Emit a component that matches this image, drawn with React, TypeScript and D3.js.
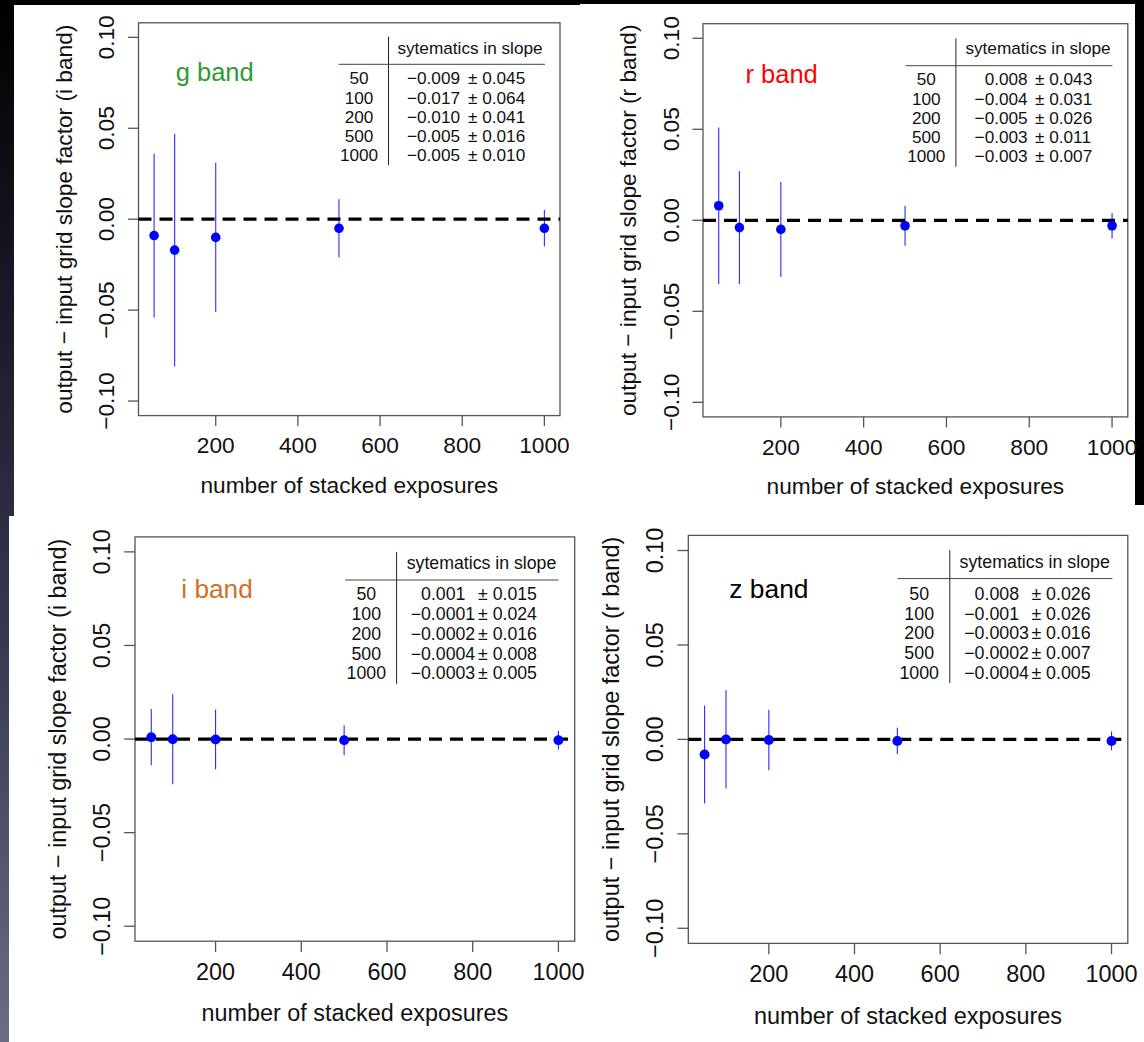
import React from "react";
import * as d3 from "d3";

// ---------- data ----------
const N_EXPOSURES = [50, 100, 200, 500, 1000];
const X_TICKS = [200, 400, 600, 800, 1000];
const Y_TICKS = [-0.1, -0.05, 0, 0.05, 0.1];
const Y_TICK_LABELS = ["\u22120.10", "\u22120.05", "0.00", "0.05", "0.10"];
const Y_LIMITS = [-0.1, 0.1];

const G_VALUES = [-0.009, -0.017, -0.01, -0.005, -0.005];
const G_ERRORS = [0.045, 0.064, 0.041, 0.016, 0.01];
const G_TABLE_VALUES = ["\u22120.009", "\u22120.017", "\u22120.010", "\u22120.005", "\u22120.005"];
const G_TABLE_ERRORS = ["0.045", "0.064", "0.041", "0.016", "0.010"];

const R_VALUES = [0.008, -0.004, -0.005, -0.003, -0.003];
const R_ERRORS = [0.043, 0.031, 0.026, 0.011, 0.007];
const R_TABLE_VALUES = ["0.008", "\u22120.004", "\u22120.005", "\u22120.003", "\u22120.003"];
const R_TABLE_ERRORS = ["0.043", "0.031", "0.026", "0.011", "0.007"];

const I_VALUES = [0.001, -0.0001, -0.0002, -0.0006, -0.0006];
const I_ERRORS = [0.015, 0.024, 0.016, 0.008, 0.005];
const I_TABLE_VALUES = ["0.001", "\u22120.0001", "\u22120.0002", "\u22120.0004", "\u22120.0003"];
const I_TABLE_ERRORS = ["0.015", "0.024", "0.016", "0.008", "0.005"];

const Z_VALUES = [-0.008, 0.0, -0.0003, -0.0008, -0.0008];
const Z_ERRORS = [0.026, 0.026, 0.016, 0.007, 0.005];
const Z_TABLE_VALUES = ["0.008", "\u22120.001", "\u22120.0003", "\u22120.0002", "\u22120.0004"];
const Z_TABLE_ERRORS = ["0.026", "0.026", "0.016", "0.007", "0.005"];

const TABLE_HEADER = "sytematics in slope";
const X_LABEL = "number of stacked exposures";

// ---------- layout ----------
const FONT = "'Liberation Sans', Arial, Helvetica, sans-serif";

const PANELS = [
  {
    title: "g band", titleColor: "#2f9a2f",
    ylab: "output \u2212 input grid slope factor (i band)",
    values: G_VALUES, errors: G_ERRORS, tv: G_TABLE_VALUES, te: G_TABLE_ERRORS,
    box: { l: 138.5, r: 560, t: 22.8, b: 415.6 }, s: 1,
    titlePos: [175.7, 80.5],
    tab: { vx: 388.5, vy: [36.7, 165], hx: [338.5, 545], hy: 64.3, headX: 470, headY: 49.3,
      rowY: [78.3, 97.7, 116.7, 136, 155], colX: 359, valX: 407, pmX: 468 },
  },
  {
    title: "r band", titleColor: "#ff0000",
    ylab: "output \u2212 input grid slope factor (r band)",
    values: R_VALUES, errors: R_ERRORS, tv: R_TABLE_VALUES, te: R_TABLE_ERRORS,
    box: { l: 703, r: 1127.8, t: 23.7, b: 416.9 }, s: 1,
    titlePos: [745.5, 83],
    tab: { vx: 955.9, vy: [38.3, 166.7], hx: [905.5, 1112.4], hy: 65.7, headX: 1038, headY: 50,
      rowY: [79.3, 98.7, 117.7, 137, 156], colX: 926.3, valX: 974.6, pmX: 1035 },
  },
  {
    title: "i band", titleColor: "#d2711f",
    ylab: "output \u2212 input grid slope factor (i band)",
    values: I_VALUES, errors: I_ERRORS, tv: I_TABLE_VALUES, te: I_TABLE_ERRORS,
    box: { l: 135, r: 574.7, t: 536.9, b: 941.2 }, s: 1.03,
    titlePos: [181.3, 598.2],
    tab: { vx: 396.6, vy: [551.9, 683.8], hx: [345.2, 558.6], hy: 580, headX: 481.5, headY: 564.2,
      rowY: [594, 613.9, 633.4, 653.3, 672.8], colX: 366.3, valX: 410.7, pmX: 478 },
  },
  {
    title: "z band", titleColor: "#000000",
    ylab: "output \u2212 input grid slope factor (r band)",
    values: Z_VALUES, errors: Z_ERRORS, tv: Z_TABLE_VALUES, te: Z_TABLE_ERRORS,
    box: { l: 688.3, r: 1127.8, t: 535.4, b: 943.4 }, s: 1.035,
    titlePos: [729.3, 598.2],
    tab: { vx: 949.8, vy: [550.2, 683], hx: [897.6, 1112.4], hy: 578.6, headX: 1034.7, headY: 563.2,
      rowY: [593.4, 613.2, 632.7, 653, 672.8], colX: 919.2, valX: 964.2, pmX: 1031.4 },
  },
];

function Panel({ p }: { p: any }) {
  const { box, s, tab } = p;
  const [xmin, xmax] = d3.extent(N_EXPOSURES) as [number, number];
  const xpad = 0.04 * (xmax - xmin);
  const ypad = 0.04 * (Y_LIMITS[1] - Y_LIMITS[0]);
  const x = d3.scaleLinear().domain([xmin - xpad, xmax + xpad]).range([box.l, box.r]);
  const y = d3.scaleLinear().domain([Y_LIMITS[0] - ypad, Y_LIMITS[1] + ypad]).range([box.b, box.t]);

  const axisFs = 22.7 * s;
  const tableFs = 17.2 * s;
  const titleFs = 25.5 * s;
  const tickLen = 10.5 * s;
  const axisColor = "#555";
  const textColor = "#111";

  const yTickCx = box.l - 32.5 * s;
  const yLabCx = box.l - 72.5 * s;
  const xTickCy = box.b + 29.6 * s;
  const xLabCy = box.b + 71.5 * s;
  const yMid = (box.t + box.b) / 2;
  const xMid = (box.l + box.r) / 2;
  const minusW = 0.584 * tableFs;

  return (
    <g>
      {/* frame */}
      <rect x={box.l} y={box.t} width={box.r - box.l} height={box.b - box.t}
        fill="none" stroke={axisColor} strokeWidth={1.3} />
      {/* x ticks */}
      {X_TICKS.map((t) => (
        <g key={"xt" + t}>
          <line x1={x(t)} x2={x(t)} y1={box.b} y2={box.b + tickLen} stroke={axisColor} strokeWidth={1.3} />
          <text x={x(t)} y={xTickCy + 0.36 * axisFs} textAnchor="middle" fontSize={axisFs}
            fontFamily={FONT} fill={textColor}>{t}</text>
        </g>
      ))}
      {/* y ticks */}
      {Y_TICKS.map((t, i) => (
        <g key={"yt" + i}>
          <line x1={box.l - tickLen} x2={box.l} y1={y(t)} y2={y(t)} stroke={axisColor} strokeWidth={1.3} />
          <text transform={`translate(${yTickCx},${y(t)}) rotate(-90)`} y={0.36 * axisFs}
            textAnchor="middle" fontSize={axisFs} fontFamily={FONT} fill={textColor}>{Y_TICK_LABELS[i]}</text>
        </g>
      ))}
      {/* axis titles */}
      <text x={xMid} y={xLabCy + 0.26 * axisFs} textAnchor="middle" fontSize={axisFs}
        fontFamily={FONT} fill={textColor}>{X_LABEL}</text>
      <text transform={`translate(${yLabCx},${yMid}) rotate(-90)`} y={0.26 * axisFs}
        textAnchor="middle" fontSize={axisFs} fontFamily={FONT} fill={textColor}>{p.ylab}</text>

      {/* error bars */}
      {N_EXPOSURES.map((n, i) => (
        <line key={"eb" + n} x1={x(n)} x2={x(n)} y1={y(p.values[i] - p.errors[i])} y2={y(p.values[i] + p.errors[i])}
          stroke="#2b2bff" strokeWidth={1.1} />
      ))}
      {/* zero reference */}
      <line x1={box.l} x2={box.r} y1={y(0)} y2={y(0)} stroke="#000" strokeWidth={3.3} strokeDasharray="13 8" />
      {/* points */}
      {N_EXPOSURES.map((n, i) => (
        <circle key={"pt" + n} cx={x(n)} cy={y(p.values[i])} r={4.8 * s} fill="#0000ff" />
      ))}

      {/* band title */}
      <text x={p.titlePos[0]} y={p.titlePos[1]} fontSize={titleFs} fontFamily={FONT} fill={p.titleColor}>{p.title}</text>

      {/* table */}
      <line x1={tab.vx} x2={tab.vx} y1={tab.vy[0]} y2={tab.vy[1]} stroke="#222" strokeWidth={1} />
      <line x1={tab.hx[0]} x2={tab.hx[1]} y1={tab.hy} y2={tab.hy} stroke="#444" strokeWidth={1} />
      <text x={tab.headX} y={tab.headY + 0.26 * tableFs} textAnchor="middle" fontSize={tableFs}
        fontFamily={FONT} fill={textColor}>{TABLE_HEADER}</text>
      {N_EXPOSURES.map((n, i) => {
        const by = tab.rowY[i] + 0.36 * tableFs;
        const v = p.tv[i];
        const off = v.startsWith("\u2212") ? 0 : minusW;
        return (
          <g key={"row" + n}>
            <text x={tab.colX} y={by} textAnchor="middle" fontSize={tableFs} fontFamily={FONT} fill={textColor}>{n}</text>
            <text x={tab.valX + off} y={by} fontSize={tableFs} fontFamily={FONT} fill={textColor}>{v}</text>
            <text x={tab.pmX} y={by} fontSize={tableFs} fontFamily={FONT} fill={textColor}>{"\u00B1 " + p.te[i]}</text>
          </g>
        );
      })}
    </g>
  );
}

export default function App() {
  return (
    <div style={{ position: "absolute", left: 0, top: 0 }}>
      <svg width={1144} height={1042} style={{ display: "block" }}>
        <defs>
          <linearGradient id="leftbg" x1="0" y1="0" x2="0" y2="1">
            <stop offset="0" stopColor="#000000" />
            <stop offset="0.3" stopColor="#1a1a2a" />
            <stop offset="0.65" stopColor="#3c3c55" />
            <stop offset="1" stopColor="#6c6c88" />
          </linearGradient>
        </defs>
        <rect x={0} y={0} width={1144} height={1042} fill="#000" />
        <rect x={0} y={0} width={20} height={1042} fill="url(#leftbg)" />
        {/* slide panels */}
        <rect x={14} y={5} width={566} height={511} fill="#fff" />
        <rect x={580} y={4} width={555} height={501} fill="#fff" />
        <rect x={9} y={516} width={571} height={526} fill="#fff" />
        <rect x={580} y={505} width={564} height={537} fill="#fff" />
        {PANELS.map((p, i) => (
          <Panel key={i} p={p} />
        ))}
      </svg>
    </div>
  );
}
